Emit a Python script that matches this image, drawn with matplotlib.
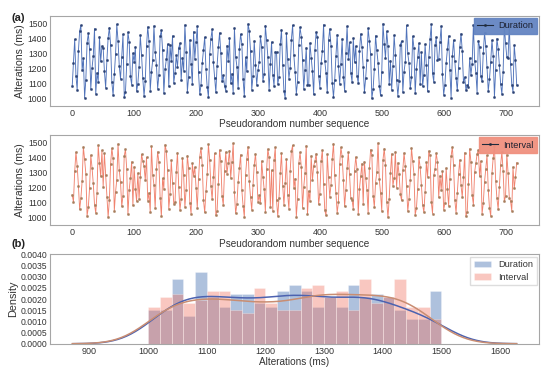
import numpy as np
import matplotlib
matplotlib.use('Agg')
import matplotlib.pyplot as plt
import seaborn as sns
from matplotlib.ticker import MultipleLocator, FormatStrFormatter

# ---------------- data ----------------
duration = [
    1084, 1238, 1395, 1152, 1057, 1316, 1449, 1488, 1190, 1268, 1005, 1126, 1372, 1434, 1329, 1063, 1203, 1283, 1466, 1031, 1171, 1112, 1411, 1247, 1350,
    1334, 1183, 1072, 1254, 1405, 1473, 1358, 1108, 1024, 1163, 1296, 1495, 1386, 1216, 1131, 1277, 1427, 1012, 1044, 1229, 1441, 1379, 1147, 1093, 1302,
    1241, 1343, 1049, 1098,
    1211, 1422, 1290, 1135, 1017, 1117, 1347, 1478, 1382, 1053, 1176, 1256, 1484, 1309, 1225, 1066, 1158, 1414, 1455, 1321, 1036, 1194, 1262, 1363, 1081,
    1355, 1250, 1418, 1104, 1168, 1287, 1207, 1337, 1368, 1122, 1271, 1186, 1491, 1313, 1046, 1144, 1391, 1232, 1095,
    1446, 1265, 1375, 1482, 1174, 1028, 1089, 1236, 1326, 1409, 1197, 1077, 1009, 1294, 1398, 1462, 1243, 1139, 1041, 1219, 1341, 1438, 1305, 1115, 1155,
    1086, 1052,
    1353, 1252, 1403, 1101, 1165, 1038, 1470, 1280, 1213, 1069, 1331, 1429, 1366, 1128, 1014, 1274, 1181, 1497, 1452, 1318, 1059, 1149, 1384, 1223, 1091,
    1188, 1245, 1416, 1345, 1119, 1161, 1486, 1389, 1279, 1055, 1227, 1377, 1157, 1083, 1311,
    1307, 1097, 1142, 1361, 1458, 1221, 1048, 1003, 1436, 1263, 1133, 1201, 1393, 1489, 1288, 1178, 1033, 1113, 1357, 1475, 1412, 1258, 1064, 1192, 1339,
    1087,
    1092, 1370, 1273, 1185, 1027, 1325, 1443, 1407, 1153, 1073, 1234, 1314, 1493, 1249, 1169, 1042, 1387, 1464, 1352, 1106, 1008, 1124, 1285, 1425, 1218,
    1099, 1230, 1397, 1146, 1051, 1303, 1481, 1266, 1374, 1172, 1110, 1402, 1242, 1349,
    1150, 1103, 1317, 1431, 1344, 1209, 1045, 1137, 1257, 1468, 1381, 1298, 1001, 1061, 1199, 1419, 1322, 1239, 1085, 1021, 1177, 1499, 1365, 1269, 1448,
    1348, 1094, 1253, 1058,
    1214, 1421, 1291, 1121, 1019, 1116, 1359, 1383, 1043, 1179, 1244, 1487, 1301, 1235, 1067, 1141, 1415, 1336, 1035, 1195, 1276, 1369, 1096,
    1308, 1082, 1159, 1362, 1226, 1047, 1278, 1396, 1494, 1167, 1111, 1354, 1408, 1259,
    1261, 1378, 1483, 1164, 1026, 1090, 1237, 1327, 1417, 1187, 1006, 1282, 1390, 1248, 1138, 1054, 1205, 1342, 1433, 1319, 1107, 1143,
    1056, 1088,
    1080, 1270, 1156, 1233, 1490, 1251, 1173, 1040, 1385, 1346,
    1148, 1114, 1306, 1439, 1351, 1210, 1050, 1130, 1246, 1388, 1286, 1011, 1193, 1400, 1333, 1222, 1098, 1030, 1175, 1485, 1367, 1275,
    1267, 1492, 1228, 1093, 1046, 1356, 1255,
    1089,
]

interval = [
    1151, 1104, 1307, 1436, 1346, 1213, 1054, 1129, 1244, 1471, 1388, 1292, 1012, 1068, 1195, 1416, 1333, 1227, 1087, 1031, 1162, 1483, 1364, 1275, 1448,
    1206, 1427, 1284, 1138, 1004, 1117, 1357, 1462, 1394, 1046, 1170, 1253, 1491, 1318, 1235, 1075, 1145, 1409, 1455, 1325, 1023, 1183, 1266, 1372, 1081,
    1338, 1188, 1109, 1297, 1124, 1271, 1421, 1379,
    1341, 1249, 1402, 1113, 1165, 1037, 1476, 1286, 1218, 1061, 1321, 1439, 1368, 1133, 1008, 1262, 1192, 1486, 1443, 1314, 1059, 1156, 1381, 1231, 1093,
    1101, 1303, 1432, 1202, 1049, 1127, 1397, 1281, 1070, 1186, 1413, 1329, 1098, 1026, 1361, 1278,
    1336, 1199, 1064, 1257, 1406, 1465, 1353, 1118, 1034, 1174, 1289, 1488, 1385, 1209, 1121, 1269, 1428, 1016, 1043, 1224, 1451, 1375, 1142, 1084, 1311,
    1437, 1293, 1366,
    1446, 1264, 1370, 1495, 1168, 1028, 1090, 1238, 1327, 1419, 1181, 1077, 1003, 1285, 1391, 1473, 1241, 1136, 1051, 1215, 1349, 1424, 1305, 1106, 1148,
    1095, 1377, 1273, 1190, 1039, 1322, 1457, 1401, 1072, 1316, 1041, 1383, 1468, 1115, 1010, 1131, 1298, 1430, 1211,
    1082, 1229, 1389, 1153, 1057, 1309, 1441, 1481, 1196, 1260, 1006, 1126, 1363, 1434, 1339, 1066, 1204, 1295, 1479, 1021, 1177, 1111, 1411, 1247, 1344,
    1374, 1426,
    1301, 1088, 1159, 1378, 1449, 1222, 1048, 1014, 1422, 1268, 1139, 1217, 1393, 1492, 1283, 1161, 1032, 1102, 1356, 1467, 1407, 1252, 1074, 1185, 1331,
    1435, 1288, 1130, 1119, 1055, 1312, 1404, 1324, 1025, 1193, 1277, 1360,
    1091, 1371, 1265, 1182, 1029, 1328, 1453, 1418, 1147, 1069, 1233, 1304, 1498, 1255, 1166, 1044, 1386, 1460, 1350, 1107, 1001, 1125, 1294, 1425, 1212,
    1263, 1438, 1198, 1365, 1287,
    1155, 1114, 1317, 1431, 1343, 1208, 1042, 1122, 1250, 1464, 1380, 1291, 1018, 1062, 1189, 1403, 1335, 1220, 1085, 1035, 1173, 1367, 1270, 1444,
    1415, 1105, 1027, 1282, 1323, 1429, 1369, 1134, 1279, 1184, 1308, 1052, 1094,
    1330, 1191, 1079, 1258, 1410, 1470, 1347, 1116, 1033, 1163, 1290, 1384, 1214, 1137, 1267, 1433, 1009, 1040, 1226, 1459, 1373, 1150, 1086, 1302,
    1362, 1423,
    1450, 1274, 1376, 1024, 1097, 1236, 1326, 1414, 1187, 1063, 1011, 1296, 1398, 1477, 1246, 1128, 1056, 1201, 1352, 1437, 1313, 1108, 1144,
    1420, 1299, 1132, 1112, 1045, 1337, 1194, 1272, 1366,
]

sequence = np.arange(0, 720, 2)          # pseudorandom number sequence index
bin_edges = np.arange(1000, 1501, 20)     # histogram bins (ms)
labels = ['Duration', 'Interval']

# ---------------- style ----------------
FONT = ['Liberation Sans', 'DejaVu Sans']
plt.rcParams['font.family'] = FONT
plt.rcParams['axes.edgecolor'] = '#a6a6a6'
plt.rcParams['axes.linewidth'] = 0.8
plt.rcParams['xtick.labelcolor'] = '#333333'
plt.rcParams['ytick.labelcolor'] = '#333333'
plt.rcParams['xtick.labelsize'] = 6.5
plt.rcParams['ytick.labelsize'] = 6.2
plt.rcParams['xtick.major.size'] = 0
plt.rcParams['ytick.major.size'] = 0
plt.rcParams['xtick.major.pad'] = 2.2
plt.rcParams['ytick.major.pad'] = 2.0

dur_line, dur_mark, dur_face = '#5073ba', '#2c4274', '#6485c2'
int_line, int_mark, int_face = '#f0836f', '#a67d5c', '#f0907f'
dur_hist, int_hist = '#2a5ca8', '#f06e5a'

fig = plt.figure(figsize=(5.5, 3.72), dpi=100)
ax1 = fig.add_axes([0.0909, 0.715, 0.889, 0.242])
ax2 = fig.add_axes([0.0909, 0.395, 0.889, 0.242])
ax3 = fig.add_axes([0.0909, 0.076, 0.889, 0.240])

def style_line_ax(ax):
    ax.set_ylim(950, 1550)
    ax.yaxis.set_major_locator(MultipleLocator(100))
    ax.set_xlabel('Pseudorandom number sequence', fontsize=7.2, color='#333333', labelpad=1.0)
    ax.set_ylabel('Alterations (ms)', fontsize=7.6, color='#333333')
    ax.yaxis.set_label_coords(-0.051, 0.5)

for ax, vals, lc, mc, fc, lab in [(ax1, duration, dur_line, dur_mark, dur_face, labels[0]),
                                  (ax2, interval, int_line, int_mark, int_face, labels[1])]:
    ax.plot(sequence, vals, color=lc, lw=0.65, marker='o', ms=1.6, mfc=mc, mec=mc, mew=0.3, label=lab)
    style_line_ax(ax)
    leg = ax.legend(loc='upper right', fontsize=6.6, fancybox=False, facecolor=fc, edgecolor=fc,
                    framealpha=0.95, borderaxespad=0.25, borderpad=0.35, handlelength=1.7,
                    handletextpad=0.6)
    for line in leg.get_lines():
        line.set_color('#1f2a3c')
        line.set_markerfacecolor('#1f2a3c')
        line.set_markeredgecolor('#1f2a3c')
        line.set_linewidth(0.8)
    for t in leg.get_texts():
        t.set_color('#1c2030')

# ---------------- histogram + KDE ----------------
ax3.hist(duration, bins=bin_edges, density=True, color=dur_hist, alpha=0.38,
         edgecolor='white', linewidth=0.5, label=labels[0])
sns.kdeplot(x=np.array(duration, dtype=float), ax=ax3, cut=3, color='#4c62b0', lw=1.1)
ax3.hist(interval, bins=bin_edges, density=True, color=int_hist, alpha=0.38,
         edgecolor='white', linewidth=0.5, label=labels[1])
sns.kdeplot(x=np.array(interval, dtype=float), ax=ax3, cut=3, color='#c98d72', lw=1.1)
ax3.set_ylim(0, 0.004)
ax3.yaxis.set_major_locator(MultipleLocator(0.0005))
ax3.yaxis.set_major_formatter(FormatStrFormatter('%.4f'))
ax3.xaxis.set_major_locator(MultipleLocator(100))
ax3.set_xlabel('Alterations (ms)', fontsize=7.2, color='#333333', labelpad=1.0)
ax3.set_ylabel('Density', fontsize=7.8, color='#333333')
ax3.yaxis.set_label_coords(-0.066, 0.5)
leg3 = ax3.legend(loc='upper right', fontsize=6.6, fancybox=False, edgecolor='#dddddd',
                  framealpha=1.0, borderaxespad=0.25, handlelength=1.8, handletextpad=0.8,
                  labelspacing=0.35)
for t in leg3.get_texts():
    t.set_color('#333333')

fig.text(0.021, 0.952, '(a)', fontsize=8, fontweight='bold', va='center', ha='left', color='#222222')
fig.text(0.021, 0.343, '(b)', fontsize=8, fontweight='bold', va='center', ha='left', color='#222222')

fig.savefig('out.png', dpi=100)
